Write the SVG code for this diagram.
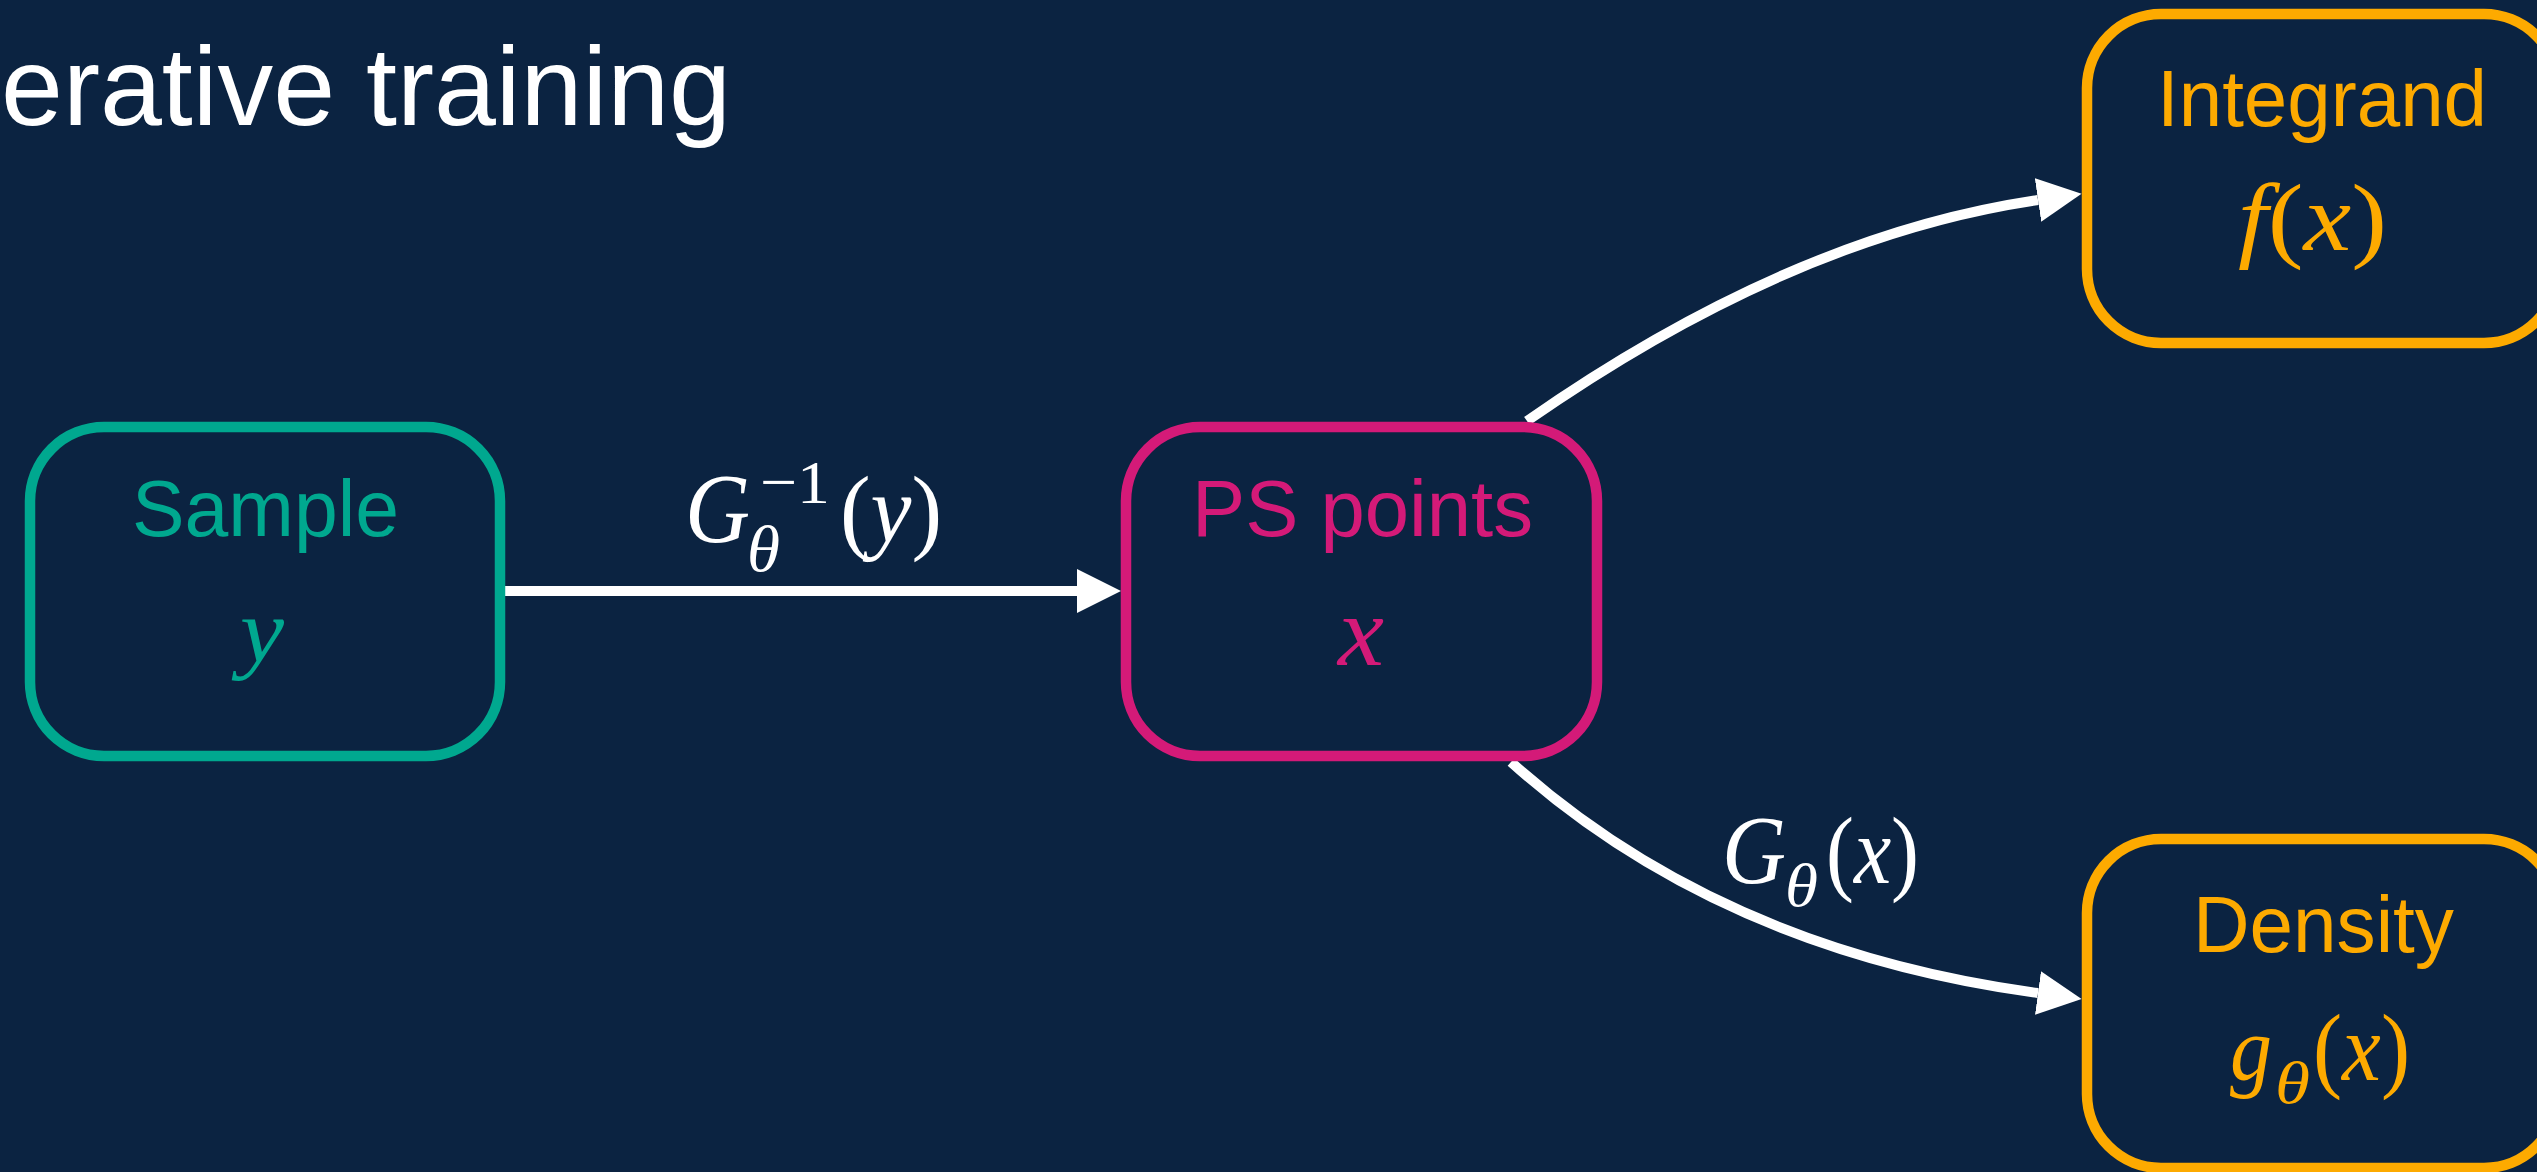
<svg xmlns="http://www.w3.org/2000/svg" width="2537" height="1172" viewBox="0 0 2537 1172">
<style>
.bg{fill:#0B2341}
.box{fill:none;stroke-width:10.5}
.lbl{font-family:"Liberation Sans",Arial,sans-serif;font-size:80px}
.m{font-family:"Liberation Serif","Times New Roman",serif;font-style:italic}
.u{font-style:normal}
.edge{fill:none;stroke:#FFFFFF;stroke-width:10}
.teal{fill:#00A88F}
.mag{fill:#D41A78}
.org{fill:#FDAA00}
.wht{fill:#FFFFFF}
</style>
<defs>
<marker id="arr" markerUnits="userSpaceOnUse" markerWidth="45" markerHeight="44" viewBox="0 0 45 44" refX="0" refY="22" orient="auto">
<path d="M0,0 L44,22 L0,44 z" fill="#FFFFFF"/>
</marker>
</defs>
<rect class="bg" x="0" y="0" width="2537" height="1172"/>
<text class="wht" x="1" y="125" font-family="Liberation Sans, Arial, sans-serif" font-size="111" textLength="730" lengthAdjust="spacingAndGlyphs">erative training</text>

<g id="connectors">
<path class="edge" d="M505,591 L1077,591" marker-end="url(#arr)"/>
<path class="edge" d="M1527,421 Q1792,236 2038,200" marker-end="url(#arr)"/>
<path class="edge" d="M1511,762 Q1720,950 2038,993" marker-end="url(#arr)"/>
<g id="label-ginv" class="wht">
<text class="m" x="685" y="542" font-size="100" textLength="65" lengthAdjust="spacingAndGlyphs">G</text>
<text class="m" x="747" y="571" font-size="65" textLength="33" lengthAdjust="spacingAndGlyphs">θ</text>
<text class="m u" x="760" y="503" font-size="62" textLength="70" lengthAdjust="spacingAndGlyphs">−1</text>
<text class="m" x="840" y="542" font-size="95" textLength="102" lengthAdjust="spacingAndGlyphs"><tspan class="u">(</tspan>y<tspan class="u">)</tspan></text>
</g>
<g id="label-g" class="wht">
<text class="m" x="1722" y="883" font-size="98" textLength="64" lengthAdjust="spacingAndGlyphs">G</text>
<text class="m" x="1785" y="906" font-size="62" textLength="33" lengthAdjust="spacingAndGlyphs">θ</text>
<text class="m" x="1826" y="883" font-size="95" textLength="93" lengthAdjust="spacingAndGlyphs"><tspan class="u">(</tspan>x<tspan class="u">)</tspan></text>
</g>
</g>

<g id="node-sample">
<rect class="box" x="30" y="427" width="470" height="329" rx="74" ry="74" stroke="#00A88F"/>
<text class="lbl teal" x="132" y="536" textLength="267" lengthAdjust="spacingAndGlyphs">Sample</text>
<text class="m teal" x="240" y="662" font-size="90" textLength="44" lengthAdjust="spacingAndGlyphs">y</text>
</g>

<g id="node-ps">
<rect class="box" x="1126" y="427" width="471" height="329" rx="74" ry="74" stroke="#D41A78"/>
<text class="lbl mag" x="1192" y="536" textLength="341" lengthAdjust="spacingAndGlyphs">PS points</text>
<text class="m mag" x="1338" y="665" font-size="100" textLength="46" lengthAdjust="spacingAndGlyphs">x</text>
</g>

<g id="node-integrand">
<rect class="box" x="2087" y="14" width="471" height="329" rx="74" ry="74" stroke="#FDAA00"/>
<text class="lbl org" x="2157" y="126" textLength="330" lengthAdjust="spacingAndGlyphs">Integrand</text>
<text class="m org" x="2238" y="250" font-size="95" textLength="149" lengthAdjust="spacingAndGlyphs">f<tspan class="u">(</tspan>x<tspan class="u">)</tspan></text>
</g>

<g id="node-density">
<rect class="box" x="2087" y="839" width="471" height="329" rx="74" ry="74" stroke="#FDAA00"/>
<text class="lbl org" x="2193" y="952" textLength="261" lengthAdjust="spacingAndGlyphs">Density</text>
<text class="m org" x="2230" y="1080" font-size="92" textLength="42" lengthAdjust="spacingAndGlyphs">g</text>
<text class="m org" x="2275" y="1103" font-size="60" textLength="35" lengthAdjust="spacingAndGlyphs">θ</text>
<text class="m org" x="2313" y="1080" font-size="95" textLength="97" lengthAdjust="spacingAndGlyphs"><tspan class="u">(</tspan>x<tspan class="u">)</tspan></text>
</g>
</svg>
